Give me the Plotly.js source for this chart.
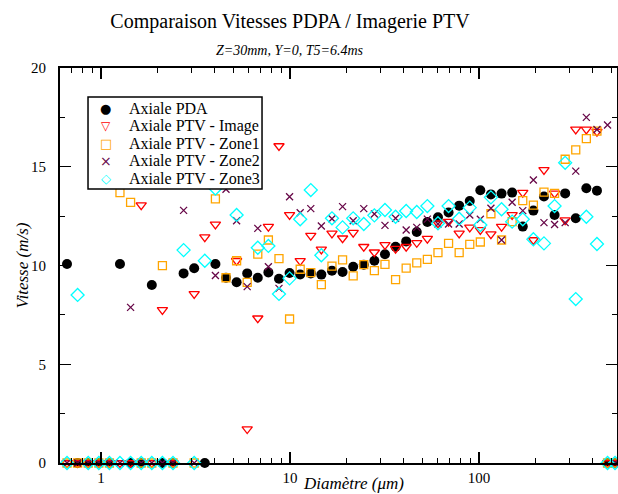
<!DOCTYPE html>
<html>
<head>
<meta charset="utf-8">
<script src="https://cdn.plot.ly/plotly-3.0.1.min.js"></script>
<style>html,body{margin:0;padding:0;background:#fff;}#chart{width:618px;height:494px;}</style>
</head>
<body>
<div id="chart"></div>
<script>
// Diameter classes (µm)
var diam = [0.661, 0.752, 0.856, 0.974, 1.108, 1.260, 1.434, 1.632, 1.857, 2.113,
            2.404, 2.735, 3.112, 3.541, 4.030, 4.585, 5.217, 5.936, 6.754, 7.685,
            8.743, 9.947, 11.32, 12.88, 14.65, 16.67, 18.97, 21.59, 24.56, 27.95,
            31.80, 36.18, 41.17, 46.84, 53.30, 60.65, 69.01, 78.52, 89.34, 101.6,
            115.6, 131.6, 149.7, 170.4, 193.9, 220.6, 251.0, 285.6, 324.9, 369.7,
            420.7, 478.6, 524.3];

var pda = [10.08, 0, 0, 0, 0, 10.08, 0, 0, 9.01, 0,
           0, 9.6, 9.86, 0, 10.08, 9.38, 9.15, 9.6, 9.38, 9.65,
           9.33, 9.62, 9.55, 9.6, 9.54, 9.74, 9.67, 9.94, 10.04, 10.24,
           10.57, 10.95, 11.22, 11.70, 12.2, 12.44, 12.68, 13.03, 13.27, 13.81,
           13.6, 13.64, 13.69, 11.97, 12.78, 13.49, 12.56, 13.65, 12.39, 13.91,
           13.79, 0, 0];

var ptvImage = [0, 0, 0, 0, 0, 0, 0, 13.06, 0, 7.75,
                0, null, 8.56, 11.44, 12.08, null, 10.24, 1.72, 7.33, 11.97,
                16.05, 12.56, 10.23, 11.51, 10.82, 11.63, 11.38, 11.66, 10.95, 10.67,
                11.04, 10.85, 10.95, 11.15, 11.36, 12.14, 12.22, 11.63, 11.93, 11.80,
                11.59, 11.97, 12.56, 13.69, 11.29, 14.84, 13.65, 12.3, 16.89, 16.89,
                16.78, 0, 0];

var ptvZone1 = [0, 0, 0, 0, 0, 13.69, 13.2, 0, 0, 9.99,
                0, null, 0, null, 13.37, 9.38, 10.24, 9.15, 10.58, 11.29,
                10.35, 7.29, 9.81, 9.64, 9.03, 9.97, 10.28, 9.47, 10.04, 9.74,
                10.06, 9.28, 9.87, 10.13, 10.31, 10.65, 11.12, 10.65, 11.07, 11.19,
                12.62, 11.29, 12.22, 13.28, 13.06, 13.72, 13.65, 15.38, 15.85, 16.42,
                16.8, 0, 0];

var ptvZone2 = [0, 0, 0, 0, 0, 0, 7.88, 0, 0, 0,
                0, 12.79, 0, null, 9.49, 13.86, 12.27, 8.93, 11.88, 9.94,
                8.84, 13.48, 12.67, 12.88, 12.0, 12.37, 12.98, 12.27, 12.88, 12.61,
                12.03, 12.39, 11.8, 11.93, 12.35, 12.1, 12.1, 12.1, 12.56, 12.34,
                12.9, 11.29, 13.2, 12.78, 14.33, 12.17, 12.08, 12.17, 14.78, 17.5,
                16.89, 17.11, 0];

var ptvZone3 = [0, 8.51, 0, 0, 0, 0, 0, 0, 0, 0,
                0, 10.78, 0, 10.24, 13.9, null, 12.56, null, 10.9, 10.99,
                8.56, 9.35, 12.34, 13.82, 10.52, 12.39, 11.93, 12.39, 12.1, 12.54,
                12.81, 12.47, 12.76, 12.71, 13.01, 12.14, 13.01, 12.37, 12.93, 12.05,
                13.45, 12.85, 12.22, 12.34, 11.33, 11.12, 13.01, 15.2, 8.30, 12.47,
                11.09, 0, 0];

var seriesNames = ["Axiale PDA", "Axiale PTV - Image", "Axiale PTV - Zone1", "Axiale PTV - Zone2", "Axiale PTV - Zone3"];
var xTickVals = [1, 10, 100];
var yTickVals = [0, 5, 10, 15, 20];

var serif = "'Liberation Serif', 'Times New Roman', Times, serif";
var colors = ["#000000", "#ff0000", "#ffa500", "#670748", "#00ffff"];
var symbols = ["circle", "triangle-down-open", "square-open", "x-thin-open", "diamond-open"];
var sizes = [10, 9, 8, 7, 10];
var ys = [pda, ptvImage, ptvZone1, ptvZone2, ptvZone3];

var traces = ys.map(function (y, i) {
  return {
    x: diam, y: y, type: "scatter", mode: "markers", name: seriesNames[i],
    cliponaxis: false, showlegend: false,
    marker: {symbol: symbols[i], size: sizes[i], color: colors[i],
             line: {color: colors[i], width: i === 0 ? 0 : 1.3}}
  };
});

// legend (drawn manually to match the compact original box)
var legGlyphs = ["\u25CF", "\u25BD", "\u25A1", "\u00D7", "\u25C7"];
var legGlyphSize = [13, 12, 13, 14, 13];
var legY = [0.8975, 0.8532, 0.8089, 0.7646, 0.7203];
var annotations = [];
for (var i = 0; i < 5; i++) {
  annotations.push({xref: "paper", yref: "paper", x: 0.082, y: legY[i], xanchor: "center", yanchor: "middle",
    text: legGlyphs[i], showarrow: false, font: {family: "'DejaVu Sans'", size: legGlyphSize[i], color: colors[i]}});
  annotations.push({xref: "paper", yref: "paper", x: 0.1197, y: legY[i], xanchor: "left", yanchor: "middle",
    text: seriesNames[i], showarrow: false, font: {family: serif, size: 16, color: "#000"}});
}
annotations.push({xref: "paper", yref: "paper", x: 0.413, y: 1.0438, xanchor: "center", yanchor: "middle",
  text: "<i>Z=30mm, Y=0, T5=6.4ms</i>", showarrow: false, font: {family: serif, size: 14, color: "#000"}});
annotations.push({xref: "paper", yref: "paper", x: 0.527, y: -0.053, xanchor: "center", yanchor: "middle",
  text: "<i>Diamètre (μm)</i>", showarrow: false, font: {family: serif, size: 17, color: "#000"}});
annotations.push({xref: "paper", yref: "paper", x: -0.068, y: 0.5, xanchor: "center", yanchor: "middle",
  text: "<i>Vitesse (m/s)</i>", textangle: -90, showarrow: false, font: {family: serif, size: 17, color: "#000"}});

var layout = {
  width: 618, height: 494,
  margin: {l: 60, r: 1, t: 68, b: 31, pad: 0},
  paper_bgcolor: "#fff", plot_bgcolor: "#fff",
  showlegend: false,
  font: {family: serif, color: "#000"},
  title: {text: "Comparaison Vitesses PDPA / Imagerie PTV", font: {family: serif, size: 20, color: "#000"},
          x: 0.413, xref: "paper", xanchor: "center", y: 0.957, yref: "container", yanchor: "middle"},
  xaxis: {
    type: "log", range: [-0.2169, 2.730], tickvals: xTickVals, ticktext: xTickVals.map(String),
    ticks: "inside", ticklen: 11, tickwidth: 1.3, tickcolor: "#000",
    minor: {ticks: "inside", ticklen: 5, tickwidth: 1, tickcolor: "#000", dtick: "D1"},
    showline: true, linewidth: 2, linecolor: "#000", mirror: "allticks",
    showgrid: false, zeroline: false,
    tickfont: {family: serif, size: 15, color: "#000"}
  },
  yaxis: {
    range: [0, 20], tickvals: yTickVals,
    ticks: "inside", ticklen: 11, tickwidth: 1.3, tickcolor: "#000",
    minor: {ticks: "inside", ticklen: 5, tickwidth: 1, tickcolor: "#000", dtick: 2.5},
    showline: true, linewidth: 2, linecolor: "#000", mirror: "allticks",
    showgrid: false, zeroline: false, ticklabelstandoff: 9,
    tickfont: {family: serif, size: 15, color: "#000"}
  },
  shapes: [{type: "rect", xref: "paper", yref: "paper", x0: 0.0503, x1: 0.3627, y0: 0.6937, y1: 0.9266,
            line: {color: "#000", width: 1.5}, fillcolor: "#fff", layer: "above"}],
  annotations: annotations
};

Plotly.newPlot("chart", traces, layout, {staticPlot: true, displayModeBar: false});
</script>
</body>
</html>
